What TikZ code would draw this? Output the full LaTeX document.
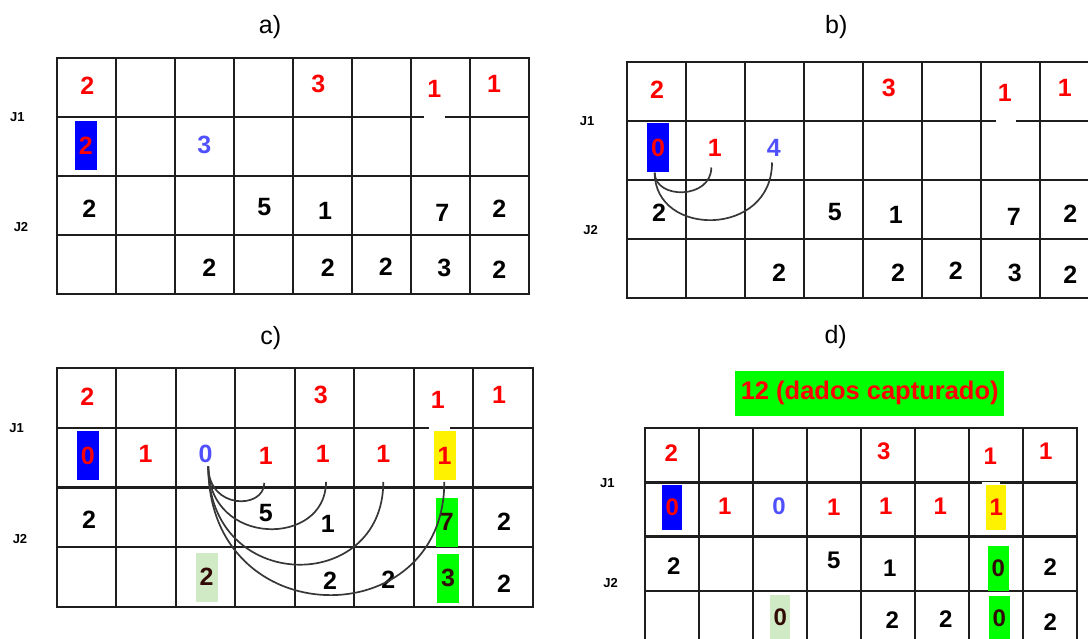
\documentclass[tikz,border=0pt]{standalone}
\usepackage{fontspec}
\setmainfont{Liberation Sans}
\usetikzlibrary{calc}
\definecolor{lblue}{RGB}{80,80,255}
\definecolor{vgreen}{RGB}{0,255,0}
\definecolor{lgreen}{RGB}{208,234,198}
\definecolor{dkbrown}{RGB}{50,10,5}
\definecolor{gridc}{RGB}{30,30,30}
\definecolor{arcc}{RGB}{55,55,55}
\tikzset{
  gridl/.style={line width=2.2pt, draw=gridc, line cap=rect},
  gapl/.style={line width=2.4pt, draw=white},
  num/.style={font=\bfseries\fontsize{25}{25}\selectfont, inner sep=0pt},
  numd/.style={font=\bfseries\fontsize{24}{24}\selectfont, inner sep=0pt},
  rn/.style={num, text=red},
  bn/.style={num, text=lblue},
  kn/.style={num, text=black},
  rnd/.style={numd, text=red},
  bnd/.style={numd, text=lblue},
  knd/.style={numd, text=black},
  bbox/.style={fill=blue, minimum width=22pt, minimum height=49pt},
  ybox/.style={fill=yellow, minimum width=22pt, minimum height=49pt},
  gbox/.style={fill=vgreen, text=dkbrown, minimum width=22pt, minimum height=49pt},
  lgbox/.style={fill=lgreen, text=dkbrown, minimum width=22pt, minimum height=49pt},
  bboxd/.style={fill=blue, minimum width=20pt, minimum height=45pt},
  yboxd/.style={fill=yellow, minimum width=20pt, minimum height=45pt},
  gboxd/.style={fill=vgreen, text=dkbrown, minimum width=20.5pt, minimum height=45pt},
  lgboxd/.style={fill=lgreen, text=dkbrown, minimum width=20pt, minimum height=45pt},
  panel/.style={font=\fontsize{25}{25}\selectfont, inner sep=0pt},
  jlab/.style={font=\bfseries\fontsize{13}{13}\selectfont, inner sep=0pt},
  arcl/.style={draw=arcc, line width=1.7pt},
  banner/.style={fill=vgreen, text=red, font=\bfseries\fontsize{25.5}{25.5}\selectfont,
    minimum width=268.7pt, minimum height=45pt, inner sep=0pt}
}
\begin{document}
\begin{tikzpicture}[x=1pt,y=-1pt]
\useasboundingbox (0,0) rectangle (1088,639);
\clip (0,0) rectangle (1088,639);

% ---------------- panel a ----------------
\node[panel] (la) at (270,26.7) {a)};
\node[jlab] (ja1) at (17.3,117.3) {J1};
\node[jlab] (ja2) at (21,226.7) {J2};
\foreach \i in {0,...,8} \draw[gridl] ({57.3+\i*58.95},58.3) -- ({57.3+\i*58.95},{58.3+4*58.95});
\foreach \j in {0,...,4} \draw[gridl] (57.3,{58.3+\j*58.95}) -- ({57.3+8*58.95},{58.3+\j*58.95});
\draw[gapl] (424,117.3) -- (445,117.3);
\node[rn] (a11) at (87.3,86) {2};
\node[rn] (a15) at (318.3,84) {3};
\node[rn] (a17) at (434.3,89.3) {1};
\node[rn] (a18) at (494,84) {1};
\node[rn,bbox] (a21) at (85.8,145.5) {2};
\node[bn] (a23) at (204.3,145) {3};
\node[kn] (a31) at (89.3,208.3) {2};
\node[kn] (a34) at (264.3,207.3) {5};
\node[kn] (a35) at (325,210.7) {1};
\node[kn] (a37) at (442.3,213.3) {7};
\node[kn] (a38) at (499.3,209) {2};
\node[kn] (a43) at (209.3,267.7) {2};
\node[kn] (a45) at (327.7,267.7) {2};
\node[kn] (a46) at (385.7,266.7) {2};
\node[kn] (a47) at (444.3,268.3) {3};
\node[kn] (a48) at (499.3,270) {2};

% ---------------- panel b ----------------
\node[panel] (lb) at (836.3,26.7) {b)};
\node[jlab] (jb1) at (587,120.7) {J1};
\node[jlab] (jb2) at (590.7,230) {J2};
\foreach \i in {0,...,8} \draw[gridl] ({627.3+\i*59},61.7) -- ({627.3+\i*59},{61.7+4*59.15});
\foreach \j in {0,...,4} \draw[gridl] (627.3,{61.7+\j*59.15}) -- ({627.3+8*59},{61.7+\j*59.15});
\draw[gapl] (995.5,120.7) -- (1015.5,120.7);
\node[rn] (b11) at (657,89.3) {2};
\node[rn] (b15) at (888.7,87.7) {3};
\node[rn] (b17) at (1004.7,93.3) {1};
\node[rn] (b18) at (1064.7,87.7) {1};
\node[rn,bbox] (b21) at (658,148) {0};
\node[rn] (b22) at (714.7,147.7) {1};
\node[bn] (b23) at (773.7,147.7) {4};
\node[kn] (b31) at (659,212.3) {2};
\node[kn] (b34) at (834.7,211.7) {5};
\node[kn] (b35) at (895.7,215) {1};
\node[kn] (b37) at (1013.7,217.3) {7};
\node[kn] (b38) at (1070.3,213.3) {2};
\node[kn] (b43) at (779,272.3) {2};
\node[kn] (b45) at (898,272.3) {2};
\node[kn] (b46) at (955.7,271) {2};
\node[kn] (b47) at (1014.7,272.7) {3};
\node[kn] (b48) at (1070.3,274.3) {2};
\draw[arcl] ([xshift=-3.3pt]b21.south) .. controls +(0,27) and +(0,32) .. ([shift={(-3.4,11)}]b22.south);
\draw[arcl] ([xshift=-3.3pt]b21.south) .. controls +(0,65) and +(0,75) .. ([shift={(-1.7,6)}]b23.south);

% ---------------- panel c ----------------
\node[panel] (lc) at (270.7,338.3) {c)};
\node[jlab] (jc1) at (16.7,428.3) {J1};
\node[jlab] (jc2) at (20,539) {J2};
\foreach \i in {0,...,8} \draw[gridl] ({56.7+\i*59.5},368.3) -- ({56.7+\i*59.5},{368.3+4*59.6});
\foreach \j in {0,...,4} \draw[gridl] (56.7,{368.3+\j*59.6}) -- ({56.7+8*59.5},{368.3+\j*59.6});
\draw[gapl] (428.5,428.3) -- (449.5,428.3);
\node[rn] (c11) at (87.3,396.7) {2};
\node[rn] (c15) at (320.7,395) {3};
\node[rn] (c17) at (437.7,400) {1};
\node[rn] (c18) at (499,395) {1};
\node[rn,bbox] (c21) at (87.8,455.7) {0};
\node[rn] (c22) at (145.7,454.3) {1};
\node[bn] (c23) at (205.7,454.3) {0};
\node[rn] (c24) at (265.7,456) {1};
\node[rn] (c25) at (322.7,454.3) {1};
\node[rn] (c26) at (383.3,454.3) {1};
\node[rn,ybox] (c27) at (444.5,455.7) {1};
\node[kn] (c31) at (89,520) {2};
\node[kn] (c34) at (265.7,513.3) {5};
\node[kn] (c35) at (327.7,524) {1};
\node[num,gbox] (c37) at (446.8,522.3) {7};
\node[kn] (c38) at (504,521.7) {2};
\node[num,lgbox] (c43) at (206.7,577.2) {2};
\node[kn] (c45) at (330,581) {2};
\node[kn] (c46) at (388.3,580) {2};
\node[num,gbox] (c47) at (448,578.3) {3};
\node[kn] (c48) at (504,583.3) {2};
\draw[arcl] ([shift={(2.6,3)}]c23.south) .. controls +(0,43.6) and +(0,26.7) .. ([shift={(-1.4,18)}]c24.south);
\draw[arcl] ([shift={(2.6,3)}]c23.south) .. controls +(0,81.2) and +(0,65.3) .. ([shift={(3.3,18.8)}]c25.south);
\draw[arcl] ([shift={(2.6,3)}]c23.south) .. controls +(0,128.6) and +(0,112.7) .. ([shift={(0,18.8)}]c26.south);
\draw[arcl] ([shift={(2.6,3)}]c23.south) .. controls +(0,168.9) and +(0,153.6) .. ([shift={(-0.2,1.5)}]c27.south);

% ---------------- panel d ----------------
\node[panel] (ld) at (835.7,336.7) {d)};
\node[banner] (ban) at (869.7,393.2) {12 (dados capturado)};
\node[jlab] (jd1) at (607.3,482.7) {J1};
\node[jlab] (jd2) at (610.7,583.3) {J2};
\foreach \i in {0,...,8} \draw[gridl] ({644.7+\i*54.08},428.3) -- ({644.7+\i*54.08},{428.3+4*54.1});
\foreach \j in {0,...,4} \draw[gridl] (644.7,{428.3+\j*54.1}) -- ({644.7+8*54.08},{428.3+\j*54.1});
\draw[gapl] (982,482.7) -- (1000,482.7);
\node[rnd] (d11) at (671.3,453.3) {2};
\node[rnd] (d15) at (883.7,451.7) {3};
\node[rnd] (d17) at (990.3,456.7) {1};
\node[rnd] (d18) at (1045.7,451.7) {1};
\node[rnd,bboxd] (d21) at (672.3,507.5) {0};
\node[rnd] (d22) at (724.7,506) {1};
\node[bnd] (d23) at (779,506) {0};
\node[rnd] (d24) at (833.7,507.3) {1};
\node[rnd] (d25) at (885.7,506) {1};
\node[rnd] (d26) at (940.3,506) {1};
\node[rnd,yboxd] (d27) at (996.3,507.5) {1};
\node[knd] (d31) at (673.7,566) {2};
\node[knd] (d34) at (833.7,560) {5};
\node[knd] (d35) at (889.7,568.3) {1};
\node[numd,gboxd] (d37) at (998.3,568.2) {0};
\node[knd] (d38) at (1050.3,566.7) {2};
\node[numd,lgboxd] (d43) at (780.3,617.5) {0};
\node[knd] (d45) at (892.3,620) {2};
\node[knd] (d46) at (945.7,619.3) {2};
\node[numd,gboxd] (d47) at (999.3,618.5) {0};
\node[knd] (d48) at (1050.3,621.7) {2};
\end{tikzpicture}
\end{document}
